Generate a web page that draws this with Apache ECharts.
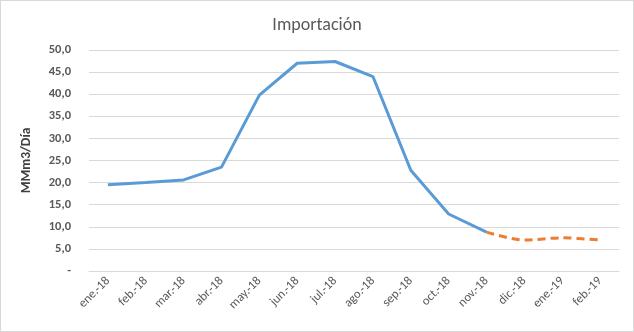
<!DOCTYPE html>
<html>
<head>
<meta charset="utf-8">
<script src="https://cdn.jsdelivr.net/npm/echarts@6/dist/echarts.min.js"></script>
<style>
html,body{margin:0;padding:0;background:#fff;}
#chart{width:632px;height:330px;border:1px solid #d9d9d9;}
</style>
</head>
<body>
<div id="chart"></div>
<script>
// Monthly import volume (MMm3/Día): actual values and projection
const months = ['ene.-18','feb.-18','mar.-18','abr.-18','may.-18','jun.-18','jul.-18','ago.-18','sep.-18','oct.-18','nov.-18','dic.-18','ene.-19','feb.-19'];
const actual = [19.5, 20.0, 20.6, 23.5, 39.8, 47.0, 47.4, 44.0, 22.8, 12.9, 8.8, null, null, null];
const projected = [null, null, null, null, null, null, null, null, null, null, 8.8, 7.0, 7.5, 7.0];

const chart = echarts.init(document.getElementById('chart'));
const font = 'Carlito, "Open Sans", "Liberation Sans", sans-serif';
chart.setOption({
  animation: false,
  title: {
    text: 'Importación',
    left: 'center',
    top: 10,
    textStyle: {fontFamily: font, fontSize: 18, fontWeight: 'normal', color: '#595959'}
  },
  grid: {left: 88, right: 14, top: 49, bottom: 60},
  xAxis: {
    type: 'category',
    data: months,
    boundaryGap: true,
    axisLine: {lineStyle: {color: '#d9d9d9'}},
    axisTick: {show: false},
    axisLabel: {rotate: 45, color: '#595959', fontFamily: font, fontSize: 12.5, margin: 8}
  },
  yAxis: {
    type: 'value',
    min: 0, max: 50, interval: 5,
    name: 'MMm3/Día',
    nameLocation: 'middle',
    nameGap: 55,
    nameRotate: 90,
    nameTextStyle: {fontFamily: font, fontSize: 13.5, fontWeight: 'bold', color: '#404040'},
    axisLine: {show: false},
    axisTick: {show: false},
    splitLine: {lineStyle: {color: '#d9d9d9'}},
    axisLabel: {
      color: '#595959', fontFamily: font, fontSize: 12.5, fontWeight: 'bold', margin: 18,
      formatter: v => v === 0 ? '-' : v.toFixed(1).replace('.', ',')
    }
  },
  series: [
    {type: 'line', data: actual, showSymbol: false, lineStyle: {color: '#5B9BD5', width: 3}, itemStyle: {color: '#5B9BD5'}},
    {type: 'line', data: projected, smooth: 0.3, showSymbol: false, lineStyle: {color: '#ED7D31', width: 3, type: [8, 5]}, itemStyle: {color: '#ED7D31'}}
  ]
});
</script>
</body>
</html>
